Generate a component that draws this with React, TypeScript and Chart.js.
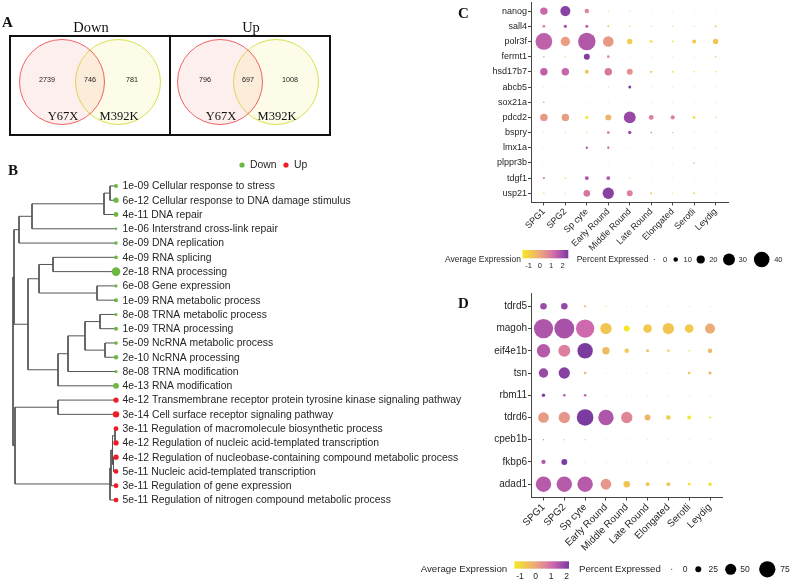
import React, { useEffect, useRef } from 'react';
import { Chart, registerables } from 'chart.js';

Chart.register(...registerables);

const SANS = '"Liberation Sans", Arial, Helvetica, sans-serif';
const SERIF = '"Liberation Serif", "Times New Roman", Times, serif';
const TEXT = '#262626';

// ---------------- Panel A: Venn counts ----------------
const vennGroups = ['Down', 'Up'];
const vennSetNames = ['Y67X', 'M392K'];
const vennOnlyFirst = [2739, 796];
const vennShared = [746, 697];
const vennOnlySecond = [781, 1008];

// ---------------- Panel B: GO terms + dendrogram ----------------
const goTerms = [
  'Cellular response to stress',
  'Cellular response to DNA damage stimulus',
  'DNA repair',
  'Interstrand cross-link repair',
  'DNA replication',
  'RNA splicing',
  'RNA processing',
  'Gene expression',
  'RNA metabolic process',
  'TRNA metabolic process',
  'TRNA processing',
  'NcRNA metabolic process',
  'NcRNA processing',
  'TRNA modification',
  'RNA modification',
  'Transmembrane receptor protein tyrosine kinase signaling pathway',
  'Cell surface receptor signaling pathway',
  'Regulation of macromolecule biosynthetic process',
  'Regulation of nucleic acid-templated transcription',
  'Regulation of nucleobase-containing compound metabolic process',
  'Nucleic acid-templated transcription',
  'Regulation of gene expression',
  'Regulation of nitrogen compound metabolic process',
];
const goPValues = [
  1e-9, 6e-12, 4e-11, 1e-6, 8e-9, 4e-9, 2e-18, 6e-8, 1e-9, 8e-8, 1e-9, 5e-9,
  2e-10, 8e-8, 4e-13, 4e-12, 3e-14, 3e-11, 4e-12, 4e-12, 5e-11, 3e-11, 5e-11,
];
const goDirection = [
  'Down', 'Down', 'Down', 'Down', 'Down', 'Down', 'Down', 'Down', 'Down', 'Down',
  'Down', 'Down', 'Down', 'Down', 'Down', 'Up', 'Up', 'Up', 'Up', 'Up', 'Up', 'Up', 'Up',
];
// hclust-style merges: negative = leaf (-(index+1)), positive = earlier merge (1-based)
const treeMerges: [number, number][] = [
  [-1, -2], [1, -3], [2, -4], [3, -5], [-6, -7], [-8, -9], [5, 6], [-10, -11],
  [-12, -13], [8, 9], [10, -14], [11, -15], [7, 12], [4, 13], [-16, -17],
  [-18, -19], [-20, -21], [16, 17], [18, -22], [19, -23], [15, 20], [14, 21],
];
const treeHeights = [6, 12, 84, 97, 63, 19, 77, 16, 11, 31, 48, 58, 88, 102, 58, 1, 2.5, 3.5, 5, 6, 101, 103];

// ---------------- Panels C and D: dot plots ----------------
const cellTypes = ['SPG1', 'SPG2', 'Sp cyte', 'Early Round', 'Middle Round', 'Late Round', 'Elongated', 'Serotli', 'Leydig'];

const cGenes = ['nanog', 'sall4', 'polr3f', 'fermt1', 'hsd17b7', 'abcb5', 'sox21a', 'pdcd2', 'bspry', 'lmx1a', 'plppr3b', 'tdgf1', 'usp21'];
const cPercent = [
  [18, 25, 10, 1, 1, 0.5, 0.5, 0.5, 0.5],
  [5, 6.5, 6, 3, 1.5, 1, 1, 1, 3],
  [43, 23, 45, 26.5, 12.5, 5, 2.5, 8.5, 12.5],
  [2, 1, 14, 5, 0.5, 0.5, 0.5, 0.5, 2],
  [18, 18, 8.5, 18, 14, 4, 3, 2, 2],
  [1, 0.5, 0.5, 1, 6, 0.5, 0.5, 0.5, 0.5],
  [1.5, 0.5, 0.5, 0.5, 0.5, 0.5, 0.5, 0.5, 0.5],
  [18, 18, 6, 14, 30, 11, 9, 5, 1.5],
  [1, 1, 1.5, 5, 7, 2, 1, 0.5, 0.5],
  [0.5, 0.5, 4, 4, 0.5, 0.5, 0.5, 0.5, 0.5],
  [0.5, 0.5, 0.5, 0.5, 0.5, 0.5, 0.5, 1, 0.5],
  [4, 2, 8.5, 8.5, 1.5, 0.5, 0.5, 0.5, 0.5],
  [2, 1, 16, 28.5, 14, 3, 1, 3, 1],
];
const cAvgExp = [
  [1.3, 2.3, 0.7, -1.2, -1.0, -1.0, -1.0, -1.0, -1.0],
  [1.0, 1.9, 1.5, -0.7, -1.2, -1.0, -1.0, -1.0, -0.7],
  [1.5, 0.2, 1.7, 0.3, -0.8, -1.2, -1.4, -0.8, -0.7],
  [0.4, -0.8, 2.4, 0.7, -1.0, -1.0, -1.0, -1.0, -0.5],
  [1.5, 1.4, -0.6, 1.0, 0.5, -0.7, -1.1, -1.2, -1.2],
  [-1.0, -1.0, -1.0, -0.6, 2.4, -1.0, -1.0, -1.0, -1.0],
  [1.0, -1.0, -1.0, -1.0, -1.0, -1.0, -1.0, -1.0, -1.0],
  [0.3, 0.2, -1.5, -0.3, 2.1, 0.8, 0.8, -1.4, -1.0],
  [-1.0, -1.0, -1.0, 1.1, 2.0, 1.0, 0.6, -1.0, -1.0],
  [-1.0, -1.0, 1.9, 1.5, -1.0, -1.0, -1.0, -1.0, -1.0],
  [-1.0, -1.0, -1.0, -1.0, -1.0, -1.0, -1.0, 1.0, -1.0],
  [0.7, -1.0, 1.8, 1.7, -1.1, -1.0, -1.0, -1.0, -1.0],
  [-1.1, -1.0, 1.0, 2.3, 0.8, -0.7, -1.0, -1.1, -1.0],
];
const cSizeBreaks = [0, 10, 20, 30, 40];
const cColorBreaks = [-1, 0, 1, 2];

const dGenes = ['tdrd5', 'magoh', 'eif4e1b', 'tsn', 'rbm11', 'tdrd6', 'cpeb1b', 'fkbp6', 'adad1'];
const dPercent = [
  [28, 28, 6, 3, 1, 1, 1, 1, 1],
  [90, 93, 85, 51, 25, 38, 51, 38, 45],
  [61, 54, 71, 32, 18, 11, 8, 4, 18],
  [42, 51, 9, 1, 1, 1, 1, 8, 11],
  [13, 9, 9, 1, 1, 1, 1, 1, 1],
  [48, 51, 77, 71, 51, 25, 18, 15, 6],
  [2, 1.5, 1.5, 1, 1, 1, 1, 1, 1],
  [17, 25, 1, 1, 1, 1, 1, 1, 1],
  [71, 71, 71, 48, 28, 15, 15, 9, 13],
];
const dAvgExp = [
  [1.7, 1.8, -0.1, -1.0, -1.0, -1.0, -1.0, -1.0, -1.0],
  [1.5, 1.6, 1.1, -0.6, -1.37, -0.7, -0.6, -0.7, -0.1],
  [1.4, 0.7, 2.1, -0.4, -0.7, -0.5, -0.9, -1.0, -0.4],
  [1.8, 2.0, -0.3, -1.0, -1.0, -1.0, -1.0, -0.5, -0.3],
  [2.0, 1.4, 1.2, -1.0, -1.0, -1.0, -1.0, -1.0, -1.0],
  [0.2, 0.3, 2.1, 1.5, 0.6, -0.3, -0.7, -1.37, -1.1],
  [1.0, 0.9, 0.5, -1.0, -1.0, -1.0, -1.0, -1.0, -1.0],
  [1.5, 2.1, -1.0, -1.0, -1.0, -1.0, -1.0, -1.0, -1.0],
  [1.4, 1.4, 1.4, 0.3, -0.6, -0.6, -0.6, -1.3, -1.2],
];
const dSizeBreaks = [0, 25, 50, 75];
const dColorBreaks = [-1, 0, 1, 2];

// ---------------- helpers ----------------
const PAL: number[][] = [
  [0, 243, 233, 40],
  [0.2, 242, 200, 80],
  [0.38, 236, 168, 122],
  [0.55, 225, 135, 150],
  [0.7, 205, 105, 172],
  [0.85, 165, 80, 168],
  [1, 120, 58, 158],
];
function rgb(s: number[]) {
  return `rgb(${Math.round(s[1])},${Math.round(s[2])},${Math.round(s[3])})`;
}
function palette(t: number) {
  const u = Math.max(0, Math.min(1, t));
  for (let i = 1; i < PAL.length; i++) {
    if (u <= PAL[i][0]) {
      const a = PAL[i - 1];
      const b = PAL[i];
      const f = (u - a[0]) / (b[0] - a[0]);
      return rgb([0, a[1] + (b[1] - a[1]) * f, a[2] + (b[2] - a[2]) * f, a[3] + (b[3] - a[3]) * f]);
    }
  }
  return rgb(PAL[PAL.length - 1]);
}
function fmtP(p: number) {
  const [m, e] = p.toExponential(0).split('e');
  const sign = e[0];
  const digits = e.slice(1).padStart(2, '0');
  return `${m}e${sign}${digits}`;
}
const GREEN = '#6cb844';
const RED = '#ee1d25';

const BASE_OPTIONS = {
  animation: false,
  responsive: false,
  events: [],
  plugins: { legend: { display: false }, tooltip: { enabled: false } },
};

// ---------------- chart builders ----------------
function makeVenn(): any {
  const panelCenters = [90, 248];
  const boxMids = [90, 250];
  const circleOffset = 28;
  const radius = 42.5;
  const cy = 82;
  const datasets: any[] = [];
  vennGroups.forEach((_, gi) => {
    datasets.push({
      data: [{ x: panelCenters[gi] - circleOffset, y: cy, r: radius }],
      backgroundColor: 'rgba(244,120,120,0.12)',
      borderColor: 'rgba(236,72,72,0.85)',
      borderWidth: 1,
      clip: false,
    });
    datasets.push({
      data: [{ x: panelCenters[gi] + circleOffset, y: cy, r: radius }],
      backgroundColor: 'rgba(245,235,110,0.16)',
      borderColor: 'rgba(214,222,70,0.95)',
      borderWidth: 1,
      clip: false,
    });
  });
  const plugin = {
    id: 'vennText',
    afterDatasetsDraw(chart: any) {
      const { ctx } = chart;
      const x = chart.scales.x;
      const y = chart.scales.y;
      const px = (v: number) => x.getPixelForValue(v);
      const py = (v: number) => y.getPixelForValue(v);
      ctx.save();
      ctx.strokeStyle = '#111';
      ctx.lineWidth = 2;
      ctx.strokeRect(px(10), py(36), px(330) - px(10), py(135) - py(36));
      ctx.beginPath();
      ctx.moveTo(px(170), py(36));
      ctx.lineTo(px(170), py(135));
      ctx.stroke();
      ctx.fillStyle = '#111';
      ctx.textAlign = 'center';
      ctx.textBaseline = 'alphabetic';
      vennGroups.forEach((g, gi) => {
        ctx.font = `14.5px ${SERIF}`;
        ctx.fillText(g, px(boxMids[gi] + 1), py(31.5));
        ctx.font = `12.5px ${SERIF}`;
        ctx.fillText(vennSetNames[0], px(panelCenters[gi] - circleOffset + 1), py(120));
        ctx.fillText(vennSetNames[1], px(panelCenters[gi] + circleOffset + 1), py(120));
        ctx.font = `7.2px ${SANS}`;
        ctx.fillStyle = '#222';
        ctx.textBaseline = 'middle';
        ctx.fillText(String(vennOnlyFirst[gi]), px(panelCenters[gi] - 43), py(80));
        ctx.fillText(String(vennShared[gi]), px(panelCenters[gi]), py(80));
        ctx.fillText(String(vennOnlySecond[gi]), px(panelCenters[gi] + 42), py(80));
        ctx.fillStyle = '#111';
        ctx.textBaseline = 'alphabetic';
      });
      ctx.font = `bold 15px ${SERIF}`;
      ctx.textAlign = 'left';
      ctx.fillText('A', 2, 27);
      ctx.restore();
    },
  };
  return {
    type: 'bubble',
    data: { datasets },
    options: {
      ...BASE_OPTIONS,
      layout: { padding: 0, autoPadding: false },
      scales: {
        x: { type: 'linear', min: 0, max: 340, display: false },
        y: { type: 'linear', min: 0, max: 140, reverse: true, display: false },
      },
    },
    plugins: [plugin],
  };
}

function makeTree(): any {
  const n = goTerms.length;
  const nodeY: number[] = [];
  const childY = (c: number) => (c < 0 ? -c - 1 : nodeY[c - 1]);
  const childH = (c: number) => (c < 0 ? 0 : treeHeights[c - 1]);
  const lineSets: any[] = [];
  treeMerges.forEach(([a, b], k) => {
    const ya = childY(a);
    const yb = childY(b);
    const h = treeHeights[k];
    nodeY.push((ya + yb) / 2);
    lineSets.push({
      type: 'scatter',
      showLine: true,
      data: [
        { x: childH(a), y: ya },
        { x: h, y: ya },
        { x: h, y: yb },
        { x: childH(b), y: yb },
      ],
      borderColor: '#555',
      borderWidth: 1,
      pointRadius: 0,
      tension: 0,
      fill: false,
      clip: false,
    });
  });
  const dotSet = {
    type: 'scatter',
    data: goTerms.map((_, i) => ({ x: 0, y: i })),
    pointRadius: goPValues.map((p) => 0.26 * -Math.log10(p) - 0.3),
    pointBackgroundColor: goDirection.map((d) => (d === 'Down' ? GREEN : RED)),
    pointBorderWidth: 0,
    borderWidth: 0,
    showLine: false,
    clip: false,
  };
  const plugin = {
    id: 'treeText',
    afterDatasetsDraw(chart: any) {
      const { ctx } = chart;
      const x = chart.scales.x;
      const y = chart.scales.y;
      ctx.save();
      ctx.font = `10.4px ${SANS}`;
      ctx.fillStyle = TEXT;
      ctx.textAlign = 'left';
      ctx.textBaseline = 'middle';
      const x0 = x.getPixelForValue(0) + 6.5;
      for (let i = 0; i < n; i++) {
        ctx.fillText(`${fmtP(goPValues[i])} ${goTerms[i]}`, x0, y.getPixelForValue(i) + 0.5);
      }
      const items = [
        { label: 'Down', color: GREEN, dx: 242 },
        { label: 'Up', color: RED, dx: 286 },
      ];
      items.forEach((it) => {
        ctx.fillStyle = it.color;
        ctx.beginPath();
        ctx.arc(it.dx, 25, 2.6, 0, Math.PI * 2);
        ctx.fill();
        ctx.fillStyle = TEXT;
        ctx.fillText(it.label, it.dx + 8, 25.5);
      });
      ctx.fillStyle = '#111';
      ctx.font = `bold 15px ${SERIF}`;
      ctx.textBaseline = 'alphabetic';
      ctx.fillText('B', 8, 35);
      ctx.restore();
    },
  };
  return {
    type: 'scatter',
    data: { datasets: [dotSet, ...lineSets] },
    options: {
      ...BASE_OPTIONS,
      layout: { padding: 0, autoPadding: false },
      scales: {
        x: { type: 'linear', min: -364, max: 116, reverse: true, display: false },
        y: { type: 'linear', min: -3.22, max: 23.4, reverse: true, display: false },
      },
    },
    plugins: [plugin],
  };
}

type DotPanel = {
  letter: string;
  letterXY: [number, number];
  genes: string[];
  pct: number[][];
  exp: number[][];
  r0: number;
  rPer: number;
  expMin: number;
  expMax: number;
  fontSize: number;
  yWidth: number;
  xHeight: number;
  padTop: number;
  padRight: number;
  sizeBreaks: number[];
  colorBreaks: number[];
  lg: {
    titleX: number;
    titleY: number;
    titleSize: number;
    barX0: number;
    barX1: number;
    barY0: number;
    barY1: number;
    tickY: number;
    tickSize: number;
    sizeTitleX: number;
    dotX: number[];
    labX: number[];
  };
};

function makeDot(p: DotPanel): any {
  const data: any[] = [];
  p.genes.forEach((_, gi) =>
    cellTypes.forEach((__, ci) => {
      data.push({ x: ci, y: gi, r: p.r0 + p.rPer * p.pct[gi][ci], v: p.exp[gi][ci] });
    })
  );
  const colorOf = (v: number) => palette((v - p.expMin) / (p.expMax - p.expMin));
  const axisCommon = {
    type: 'linear',
    grid: { display: true, drawOnChartArea: false, drawTicks: true, tickLength: 3, color: '#444', lineWidth: 1 },
    border: { display: true, color: '#444', width: 1 },
  };
  const plugin = {
    id: 'dotLegend' + p.letter,
    afterDraw(chart: any) {
      const { ctx } = chart;
      const L = p.lg;
      ctx.save();
      ctx.fillStyle = TEXT;
      ctx.textBaseline = 'middle';
      ctx.textAlign = 'left';
      ctx.font = `${L.titleSize}px ${SANS}`;
      ctx.fillText('Average Expression', L.titleX, L.titleY);
      const grad = ctx.createLinearGradient(L.barX0, 0, L.barX1, 0);
      PAL.forEach((s) => grad.addColorStop(s[0], rgb(s)));
      ctx.fillStyle = grad;
      ctx.fillRect(L.barX0, L.barY0, L.barX1 - L.barX0, L.barY1 - L.barY0);
      ctx.fillStyle = TEXT;
      ctx.textAlign = 'center';
      ctx.font = `${L.tickSize}px ${SANS}`;
      p.colorBreaks.forEach((b) => {
        const bx = L.barX0 + ((b - p.expMin) / (p.expMax - p.expMin)) * (L.barX1 - L.barX0);
        ctx.fillText(String(b), bx, L.tickY);
      });
      ctx.textAlign = 'left';
      ctx.font = `${L.titleSize}px ${SANS}`;
      ctx.fillText('Percent Expressed', L.sizeTitleX, L.titleY);
      ctx.font = `${L.tickSize}px ${SANS}`;
      ctx.textAlign = 'center';
      p.sizeBreaks.forEach((b, i) => {
        ctx.fillStyle = '#000';
        ctx.beginPath();
        ctx.arc(L.dotX[i], L.titleY, Math.max(0.5, p.r0 + p.rPer * b), 0, Math.PI * 2);
        ctx.fill();
        ctx.fillStyle = TEXT;
        ctx.fillText(String(b), L.labX[i], L.titleY + 0.5);
      });
      ctx.fillStyle = '#111';
      ctx.font = `bold 15px ${SERIF}`;
      ctx.textAlign = 'left';
      ctx.textBaseline = 'alphabetic';
      ctx.fillText(p.letter, p.letterXY[0], p.letterXY[1]);
      ctx.restore();
    },
  };
  return {
    type: 'bubble',
    data: {
      datasets: [
        {
          data,
          backgroundColor: data.map((d) => colorOf(d.v)),
          borderWidth: 0,
          clip: false,
        },
      ],
    },
    options: {
      ...BASE_OPTIONS,
      layout: { padding: { left: 0, top: p.padTop, right: p.padRight, bottom: 0 }, autoPadding: false },
      scales: {
        x: {
          ...axisCommon,
          min: -0.6,
          max: cellTypes.length - 0.4,
          afterBuildTicks: (s: any) => {
            s.ticks = cellTypes.map((_, i) => ({ value: i }));
          },
          ticks: {
            callback: (v: any) => cellTypes[v as number],
            autoSkip: false,
            minRotation: 45,
            maxRotation: 45,
            padding: 1,
            color: TEXT,
            font: { family: SANS, size: p.fontSize },
          },
          afterFit: (s: any) => {
            s.height = p.xHeight;
            s.paddingLeft = 0;
            s.paddingRight = 0;
          },
        },
        y: {
          ...axisCommon,
          min: -0.6,
          max: p.genes.length - 0.4,
          reverse: true,
          afterBuildTicks: (s: any) => {
            s.ticks = p.genes.map((_, i) => ({ value: i }));
          },
          ticks: {
            callback: (v: any) => p.genes[v as number],
            autoSkip: false,
            padding: 1,
            color: TEXT,
            font: { family: SANS, size: p.fontSize },
          },
          afterFit: (s: any) => {
            s.width = p.yWidth;
            s.paddingTop = 0;
            s.paddingBottom = 0;
          },
        },
      },
    },
    plugins: [plugin],
  };
}

const panelC: DotPanel = {
  letter: 'C',
  letterXY: [58, 18],
  genes: cGenes,
  pct: cPercent,
  exp: cAvgExp,
  r0: 0.4,
  rPer: 0.185,
  expMin: -1.55,
  expMax: 2.51,
  fontSize: 9,
  yWidth: 131,
  xHeight: 87.6,
  padTop: 2,
  padRight: 64.5,
  sizeBreaks: cSizeBreaks,
  colorBreaks: cColorBreaks,
  lg: {
    titleX: 45,
    titleY: 259.5,
    titleSize: 8.5,
    barX0: 122.3,
    barX1: 168.3,
    barY0: 250,
    barY1: 258.3,
    tickY: 265.5,
    tickSize: 7.5,
    sizeTitleX: 176.7,
    dotX: [254.3, 275.7, 300.7, 329, 361.7],
    labX: [265, 287.7, 313.3, 342.7, 378.3],
  },
};

const panelD: DotPanel = {
  letter: 'D',
  letterXY: [58, 23],
  genes: dGenes,
  pct: dPercent,
  exp: dAvgExp,
  r0: 0.4,
  rPer: 0.103,
  expMin: -1.37,
  expMax: 2.15,
  fontSize: 10,
  yWidth: 131,
  xHeight: 83.5,
  padTop: 8,
  padRight: 70.5,
  sizeBreaks: dSizeBreaks,
  colorBreaks: dColorBreaks,
  lg: {
    titleX: 20.7,
    titleY: 284.3,
    titleSize: 9.7,
    barX0: 114.3,
    barX1: 169,
    barY0: 276.3,
    barY1: 283.7,
    tickY: 292,
    tickSize: 8.5,
    sizeTitleX: 179,
    dotX: [271.7, 298.3, 330.7, 367.3],
    labX: [285, 313.3, 345, 385],
  },
};

function ChartCanvas(props: { left: number; top: number; width: number; height: number; make: () => any }) {
  const ref = useRef<HTMLCanvasElement>(null);
  useEffect(() => {
    const chart = new Chart(ref.current as HTMLCanvasElement, props.make());
    return () => chart.destroy();
  }, []);
  return (
    <canvas
      ref={ref}
      width={props.width}
      height={props.height}
      style={{ position: 'absolute', left: props.left, top: props.top, width: props.width, height: props.height }}
    />
  );
}

export default function App() {
  return (
    <div style={{ position: 'absolute', left: 0, top: 0, width: 793, height: 581, background: '#fff', overflow: 'hidden' }}>
      <ChartCanvas left={0} top={0} width={340} height={140} make={makeVenn} />
      <ChartCanvas left={0} top={140} width={480} height={380} make={makeTree} />
      <ChartCanvas left={400} top={0} width={393} height={290} make={() => makeDot(panelC)} />
      <ChartCanvas left={400} top={285} width={393} height={296} make={() => makeDot(panelD)} />
    </div>
  );
}
